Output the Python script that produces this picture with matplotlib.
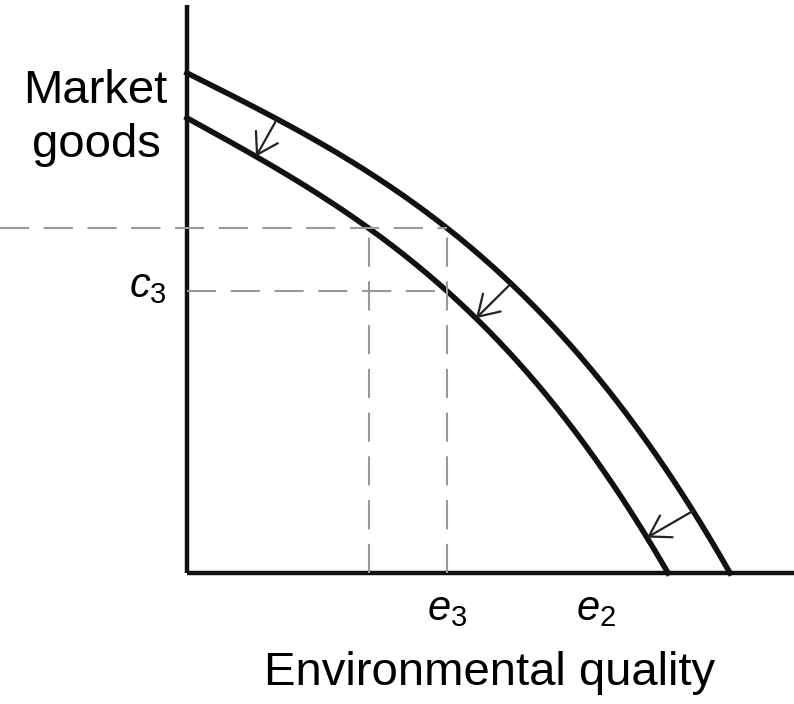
import numpy as np
import matplotlib
matplotlib.use('Agg')
import matplotlib.pyplot as plt

plt.rcParams['font.family'] = ['Liberation Sans', 'DejaVu Sans']
plt.rcParams['mathtext.fontset'] = 'custom'
plt.rcParams['mathtext.rm'] = 'Liberation Sans'
plt.rcParams['mathtext.it'] = 'Liberation Sans:italic'

# frontier shapes: y = b - s*x - k*x^3, with intercepts
outer_b, outer_a, outer_s = 5.00, 5.43, 0.50
inner_b, inner_a, inner_s = 4.55, 4.81, 0.55

# arrows: x on outer curve (tail) and x on inner curve (head)
arrow_tail_x = [0.90, 3.24, 5.06]
arrow_head_x = [0.69, 2.89, 4.60]

# levels
e3 = 2.60
e2 = 4.09


def frontier(x, b, a, s):
    k = (b - s * a) / a ** 3
    return b - s * x - k * x ** 3


def outer(x):
    return frontier(x, outer_b, outer_a, outer_s)


def inner(x):
    return frontier(x, inner_b, inner_a, inner_s)


fig = plt.figure(figsize=(7.94, 7.04), dpi=100)
ax = fig.add_axes([0, 0, 1, 1])
ax.set_xlim(-1.87, 6.07)
ax.set_ylim(-1.31, 5.73)
ax.axis('off')

# axes
ax.plot([0, 6.07], [0, 0], color='#111111', lw=3.2, solid_capstyle='butt')
ax.plot([0, 0], [0, 5.68], color='#111111', lw=3.2, solid_capstyle='butt')

# curves
xo = np.linspace(0, outer_a, 300)
xi = np.linspace(0, inner_a, 300)
ax.plot(xo, outer(xo), color='#111111', lw=4)
ax.plot(xi, inner(xi), color='#111111', lw=4)

# dashed guides
c_top = outer(e3)
c3 = inner(e3)
x_low = np.interp(c_top, inner(xi)[::-1], xi[::-1])
dash = dict(color='#999999', lw=1.5, dashes=(14, 7))
ax.plot([-1.87, e3], [c_top, c_top], **dash)
ax.plot([0, e3], [c3, c3], **dash)
ax.plot([e3, e3], [0, c_top], **dash)
ax.plot([x_low, x_low], [0, c_top], **dash)

# arrows
for xt, xh in zip(arrow_tail_x, arrow_head_x):
    ax.annotate('', xy=(xh, inner(xh)), xytext=(xt, outer(xt)),
                arrowprops=dict(arrowstyle='->,head_length=1.45,head_width=0.9',
                                color='#222222', lw=1.6,
                                shrinkA=0, shrinkB=0))

# labels
ax.text(-0.92, 4.70, 'Market', fontsize=34, ha='center', va='baseline')
ax.text(-0.91, 4.16, 'goods', fontsize=34, ha='center', va='baseline')
ax.text(-0.20, 2.76, r'$c_3$', fontsize=30, ha='right', va='baseline')
ax.text(e3, -0.47, r'$e_3$', fontsize=30, ha='center', va='baseline')
ax.text(e2, -0.47, r'$e_2$', fontsize=30, ha='center', va='baseline')
ax.text(3.03, -1.12, 'Environmental quality', fontsize=34, ha='center',
        va='baseline')

fig.savefig('out.png', dpi=100)
